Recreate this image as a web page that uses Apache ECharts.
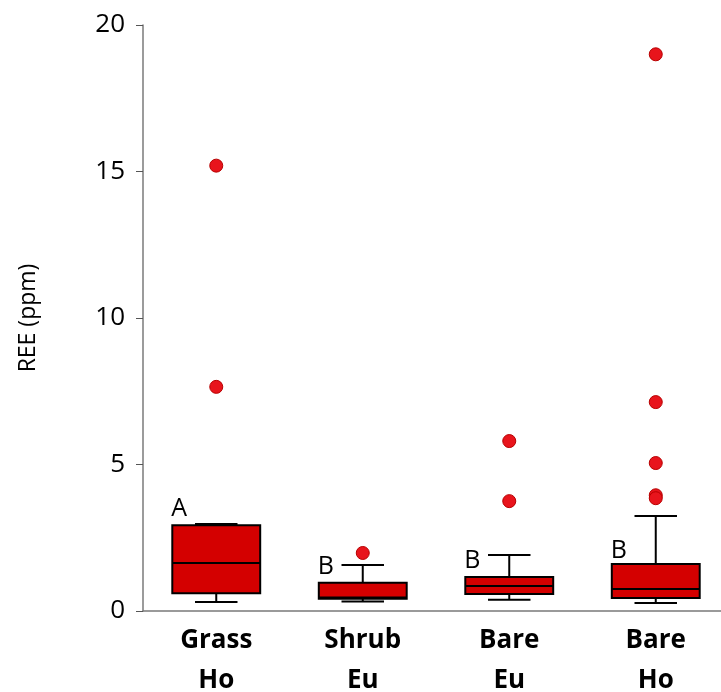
<!DOCTYPE html>
<html><head><meta charset="utf-8">
<script src="https://cdn.jsdelivr.net/npm/echarts@6/dist/echarts.min.js"></script>
<style>html,body{margin:0;padding:0;background:#fff}#c{width:721px;height:692px}</style>
</head><body><div id="c"></div>
<script>
const categories = ['Grass\nHo', 'Shrub\nEu', 'Bare\nEu', 'Bare\nHo'];
// [min, Q1, median, Q3, max]
const boxStats = [
  [0.31, 0.61, 1.64, 2.93, 2.97],
  [0.32, 0.42, 0.46, 0.96, 1.57],
  [0.38, 0.58, 0.85, 1.16, 1.91],
  [0.27, 0.44, 0.75, 1.60, 3.24]
];
// outliers: [categoryIndex, value]
const outliers = [
  [0, 15.2], [0, 7.65],
  [1, 1.98],
  [2, 5.8], [2, 3.75],
  [3, 19.0], [3, 7.13], [3, 5.05], [3, 3.95], [3, 3.85]
];
const letters = ['A', 'B', 'B', 'B'];
const letterValues = [3.48, 1.50, 1.71, 2.05];
const yTicks = [0, 5, 10, 15, 20];

const chart = echarts.init(document.getElementById('c'));
const FONT = '"Open Sans", "Noto Sans", sans-serif';

function renderBox(params, api) {
  const x = api.value(0);
  const band = api.size([1, 0])[0];
  const bw = band * 0.6;
  const cw = band * 0.29;
  const pMin = api.coord([x, api.value(1)]);
  const pQ1 = api.coord([x, api.value(2)]);
  const pMed = api.coord([x, api.value(3)]);
  const pQ3 = api.coord([x, api.value(4)]);
  const pMax = api.coord([x, api.value(5)]);
  const cx = pMed[0];
  const ls = {stroke: '#000', lineWidth: 2};
  return {
    type: 'group',
    children: [
      {type: 'line', shape: {x1: cx, y1: pQ3[1], x2: cx, y2: pMax[1]}, style: ls},
      {type: 'line', shape: {x1: cx, y1: pQ1[1], x2: cx, y2: pMin[1]}, style: ls},
      {type: 'line', shape: {x1: cx - cw / 2, y1: pMax[1], x2: cx + cw / 2, y2: pMax[1]}, style: ls},
      {type: 'line', shape: {x1: cx - cw / 2, y1: pMin[1], x2: cx + cw / 2, y2: pMin[1]}, style: ls},
      {type: 'rect', shape: {x: cx - bw / 2, y: pQ3[1], width: bw, height: pQ1[1] - pQ3[1]},
        style: {fill: '#d40000', stroke: '#000', lineWidth: 2}},
      {type: 'line', shape: {x1: cx - bw / 2, y1: pMed[1], x2: cx + bw / 2, y2: pMed[1]}, style: ls}
    ]
  };
}

chart.setOption({
  animation: false,
  backgroundColor: '#fff',
  grid: {left: 143, top: 25, width: 586, bottom: 81, outerBoundsMode: 'none', containLabel: false},
  xAxis: {
    type: 'category',
    data: categories,
    boundaryGap: true,
    axisLine: {lineStyle: {color: '#7a7a7a', width: 1.5}},
    axisTick: {alignWithLabel: true, length: 7, lineStyle: {color: '#555'}},
    axisLabel: {fontFamily: FONT, fontSize: 26, fontWeight: 'bold', color: '#000', lineHeight: 40, margin: 10}
  },
  yAxis: {
    type: 'value',
    min: 0, max: 20, interval: 5,
    name: 'REE (ppm)',
    nameLocation: 'middle',
    nameGap: 103,
    nameTextStyle: {fontFamily: FONT, fontSize: 23, color: '#000'},
    splitLine: {show: false},
    axisLine: {show: true, lineStyle: {color: '#7a7a7a', width: 1.5}},
    axisTick: {show: true, length: 7, lineStyle: {color: '#555'}},
    axisLabel: {fontFamily: FONT, fontSize: 26, color: '#000', margin: 18,
      formatter: v => yTicks.includes(v) ? String(v) : ''}
  },
  series: [
    {
      type: 'custom',
      renderItem: renderBox,
      encode: {x: 0, y: [1, 2, 3, 4, 5]},
      data: boxStats.map((s, i) => [i].concat(s)),
      z: 2
    },
    {
      type: 'scatter',
      data: outliers,
      symbolSize: 13,
      itemStyle: {color: '#e8141c', borderColor: '#b80000', borderWidth: 1, opacity: 1},
      z: 3
    },
    {
      type: 'scatter',
      data: letters.map((l, i) => [i, letterValues[i]]),
      symbolSize: 1,
      itemStyle: {opacity: 0},
      label: {
        show: true, position: 'inside', offset: [-37, 0],
        formatter: p => letters[p.dataIndex],
        fontFamily: FONT, fontSize: 25, color: '#000', opacity: 1
      },
      z: 4
    }
  ]
});
</script></body></html>
